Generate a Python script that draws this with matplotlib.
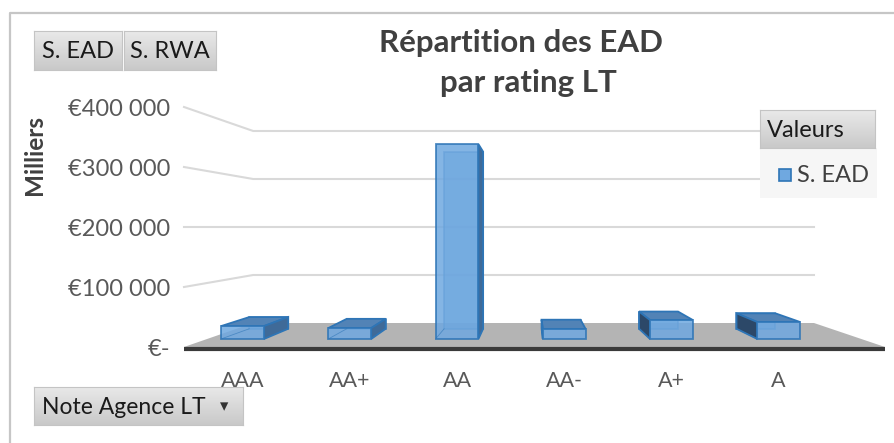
import matplotlib
matplotlib.use("Agg")
import matplotlib.pyplot as plt
import matplotlib.transforms as mtransforms
import numpy as np
from matplotlib.patches import Polygon, Rectangle

# --- data (values shown in "Milliers") ---
ratings = ["AAA", "AA+", "AA", "AA-", "A+", "A"]
s_ead = [23000, 19500, 348000, 17800, 33800, 30300]
y_ticks = [0, 100000, 200000, 300000, 400000]
y_tick_labels = ["€-", "€100 000", "€200 000", "€300 000", "€400 000"]

W, H = 895, 443
FONT = ["Lato", "DejaVu Sans"]
GREY_TXT = "#595959"
EDGE = "#2e75b6"

# fake 3D: one-point perspective, front plane s=1, back wall s=0.8
XC, YE = 2.68, 200000
S_BACK = 0.8
S_BAR_FRONT, S_BAR_BACK = 0.933, 0.848
X_LEFT, X_RIGHT = -0.33, 5.77
HALF = 0.2


def proj(x, v, s):
    return XC + (x - XC) * s, YE + (v - YE) * s


def fx(px):
    return px / W


def fy(py):
    return 1 - py / H


fig = plt.figure(figsize=(W / 100, H / 100), dpi=100)
fig.patch.set_facecolor("white")
ax = fig.add_axes([fx(184), fy(347), fx(885) - fx(184), fy(107) - fy(347)])
ax.set_xlim(X_LEFT, X_RIGHT)
ax.set_ylim(0, 400000)
for sp in ax.spines.values():
    sp.set_visible(False)
ax.set_xticks([])
ax.set_yticks(y_ticks)
ax.set_yticklabels(y_tick_labels, fontsize=17, color=GREY_TXT, family=FONT)
ax.tick_params(axis="y", length=0, pad=10)
ax.patch.set_alpha(0)

# gridlines: left wall + back wall
for v in y_ticks[1:]:
    bx0, by = proj(X_LEFT, v, S_BACK)
    bx1, _ = proj(X_RIGHT, v, S_BACK)
    ax.plot([X_LEFT, bx0, bx1], [v, by, by], color="#d9d9d9", lw=1.5,
            clip_on=False, zorder=1)

# floor
fl = [(X_LEFT, 0), (X_RIGHT, 0), proj(X_RIGHT, 0, S_BACK), proj(X_LEFT, 0, S_BACK)]
ax.add_patch(Polygon(fl, closed=True, facecolor="#b4b4b4", edgecolor="none",
                     clip_on=False, zorder=2))
ax.plot([X_LEFT, X_RIGHT], [-2500, -2500], color="#3a3a3a", lw=3,
        solid_capstyle="butt", clip_on=False, zorder=3)

# bars
lab_tr = mtransforms.blended_transform_factory(ax.transData, fig.transFigure)
for i, val in enumerate(s_ead):
    x0, x1 = i - HALF, i + HALF
    f = [proj(x0, 0, S_BAR_FRONT), proj(x1, 0, S_BAR_FRONT),
         proj(x1, val, S_BAR_FRONT), proj(x0, val, S_BAR_FRONT)]
    b = [proj(x0, 0, S_BAR_BACK), proj(x1, 0, S_BAR_BACK),
         proj(x1, val, S_BAR_BACK), proj(x0, val, S_BAR_BACK)]
    kw = dict(closed=True, edgecolor=EDGE, lw=1.3, clip_on=False)
    # back face seen through the front
    ax.add_patch(Polygon(b, facecolor="#5b9bd5", alpha=0.6, zorder=4, **kw))
    if val < YE:
        top = [f[3], f[2], b[2], b[3]]
        ax.add_patch(Polygon(top, facecolor="#5283b6", zorder=5, **kw))
    if x1 < XC:
        side = [f[1], b[1], b[2], f[2]]
        ax.add_patch(Polygon(side, facecolor="#3f6a98", zorder=5, **kw))
    if x0 > XC:
        side = [f[0], b[0], b[3], f[3]]
        ax.add_patch(Polygon(side, facecolor="#2c4868", zorder=5, **kw))
    ax.add_patch(Polygon(f, facecolor="#6fa8e0", alpha=0.85, zorder=6, **kw))
    # inner edge of the box seen through the glass
    ax.plot([f[0][0], b[0][0]], [f[0][1], b[0][1]], color=EDGE, lw=0.6,
            alpha=0.6, clip_on=False, zorder=6)
    lx, _ = proj(i, 0, S_BAR_FRONT)
    ax.text(lx, fy(381), ratings[i], transform=lab_tr, ha="center", va="center",
            fontsize=15.5, color=GREY_TXT, family=FONT)

# y axis title
fig.text(fx(35), fy(155), "Milliers", rotation=90, ha="center", va="center",
         fontsize=17.5, fontweight="bold", color="#404040", family=FONT)

# title
fig.text(fx(521), fy(43), "Répartition des EAD", ha="center", va="center",
         fontsize=22.5, fontweight="bold", color="#404040", family=FONT)
fig.text(fx(528), fy(83), "par rating LT", ha="center", va="center",
         fontsize=22.5, fontweight="bold", color="#404040", family=FONT)

grad = np.linspace(0, 1, 64).reshape(-1, 1)


def button(x0, y0, x1, y1):
    bax = fig.add_axes([fx(x0), fy(y1), fx(x1) - fx(x0), fy(y0) - fy(y1)], zorder=10)
    bax.imshow(grad, cmap=matplotlib.colors.LinearSegmentedColormap.from_list(
        "btn", ["#e9e9e9", "#c9c9c9"]), aspect="auto", extent=(0, 1, 0, 1))
    bax.set_xticks([])
    bax.set_yticks([])
    for sp in bax.spines.values():
        sp.set_color("#c4c4c4")
        sp.set_linewidth(0.8)


# pivot field buttons
button(34, 31, 122, 70)
button(124, 31, 216, 70)
fig.text(fx(78), fy(51), "S. EAD", ha="center", va="center", fontsize=17,
         color="#1a1a1a", family=FONT, zorder=11)
fig.text(fx(170), fy(51), "S. RWA", ha="center", va="center", fontsize=17,
         color="#1a1a1a", family=FONT, zorder=11)
button(34, 387, 243, 425)
fig.text(fx(42), fy(407), "Note Agence LT", ha="left", va="center", fontsize=16.5,
         color="#1a1a1a", family=FONT, zorder=11)
fig.text(fx(224), fy(406), "▾", ha="center", va="center", fontsize=12,
         color="#333333", family=["DejaVu Sans"], zorder=11)

# legend
fig.patches.append(Rectangle((fx(760), fy(198)), fx(877) - fx(760), fy(148) - fy(198),
                             transform=fig.transFigure, facecolor="#f6f6f6",
                             edgecolor="none", zorder=9))
button(760, 110, 875, 148)
fig.text(fx(767), fy(130), "Valeurs", ha="left", va="center", fontsize=17,
         color="#1a1a1a", family=FONT, zorder=11)
fig.patches.append(Rectangle((fx(779), fy(181)), fx(791) - fx(779), fy(169) - fy(181),
                             transform=fig.transFigure, facecolor="#6fa8e0",
                             edgecolor=EDGE, lw=1.2, zorder=11))
fig.text(fx(797), fy(175), "S. EAD", ha="left", va="center", fontsize=17,
         color="#404040", family=FONT, zorder=12)

# chart border (cut at right and bottom)
fig.add_artist(plt.Line2D([fx(10), fx(10), fx(900)], [fy(450), fy(13), fy(13)],
                          transform=fig.transFigure, color="#c6c6c6", lw=1.6))

fig.savefig("out.png", dpi=100)
